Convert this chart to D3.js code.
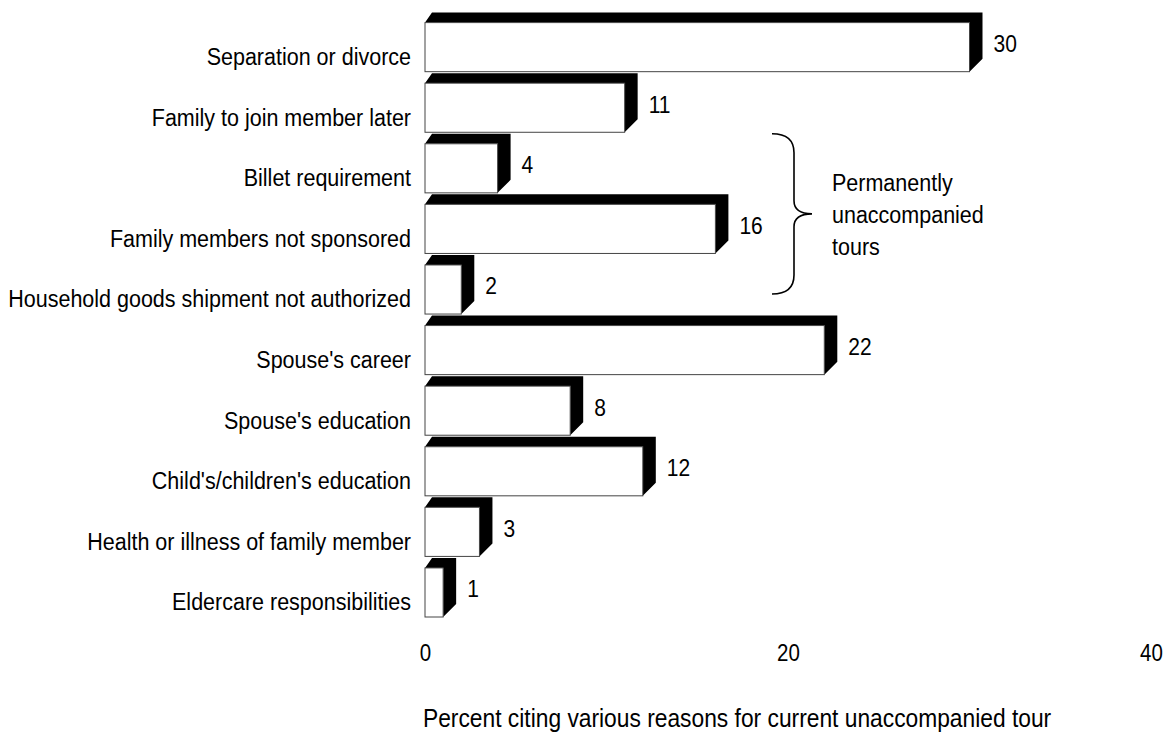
<!DOCTYPE html>
<html>
<head>
<meta charset="utf-8">
<script src="https://cdn.jsdelivr.net/npm/d3@7"></script>
<style>
  body { margin: 0; background: #fff; }
  text { font-family: "Liberation Sans", Arial, sans-serif; fill: #000; }
</style>
</head>
<body>
<div id="chart"></div>
<script>
    const reasons = [
        "Separation or divorce",
        "Family to join member later",
        "Billet requirement",
        "Family members not sponsored",
        "Household goods shipment not authorized",
        "Spouse's career",
        "Spouse's education",
        "Child's/children's education",
        "Health or illness of family member",
        "Eldercare responsibilities"
    ];
    const percents = [30, 11, 4, 16, 2, 22, 8, 12, 3, 1];
    const tickValues = [0, 20, 40];
    const bracketRows = ["Billet requirement", "Household goods shipment not authorized"];
    const bracketText = ["Permanently", "unaccompanied", "tours"];
    const axisTitle = "Percent citing various reasons for current unaccompanied tour";

    const width = 1167, height = 744;
    const depthX = 13, depthY = 10;
    const stretch = 1.13; // the original lettering is a bit taller than it is wide

    const svg = d3.select("#chart").append("svg")
        .attr("width", width)
        .attr("height", height);

    const x = d3.scaleLinear().domain([0, 40]).range([425, 1151]);
    const y = d3.scaleBand().domain(reasons).range([22.6, 617]).paddingInner(0.19).paddingOuter(0);

    const data = reasons.map((r, i) => ({ reason: r, value: percents[i] }));

    // places a text at (px, py) and stretches it vertically around that point
    function place(px, py) {
        return `translate(${px},${py}) scale(1,${stretch})`;
    }

    // black depth (top + right side) of each bar
    svg.selectAll(".depth")
        .data(data)
        .enter()
        .append("path")
        .attr("class", "depth")
        .attr("fill", "#000")
        .attr("d", d => {
            const x0 = x(0), x1 = x(d.value);
            const top = y(d.reason), bot = top + y.bandwidth();
            return `M${x0},${top} L${x0 + 7},${top - depthY} L${x1 + depthX},${top - depthY} ` +
                   `L${x1 + depthX},${bot - depthY - 3} L${x1},${bot} L${x1},${top} Z`;
        });

    // white front face
    svg.selectAll(".bar")
        .data(data)
        .enter()
        .append("rect")
        .attr("class", "bar")
        .attr("x", x(0))
        .attr("y", d => y(d.reason))
        .attr("width", d => x(d.value) - x(0))
        .attr("height", y.bandwidth())
        .attr("fill", "#fff")
        .attr("stroke", "#444")
        .attr("stroke-width", 1);

    // category labels
    svg.selectAll(".cat-label")
        .data(data)
        .enter()
        .append("text")
        .attr("class", "cat-label")
        .attr("transform", d => place(411, y(d.reason) + 42.5))
        .attr("text-anchor", "end")
        .style("font-size", "21.5px")
        .text(d => d.reason);

    // value labels
    svg.selectAll(".val-label")
        .data(data)
        .enter()
        .append("text")
        .attr("class", "val-label")
        .attr("transform", d => place(x(d.value) + depthX + 11, y(d.reason) + 29.5))
        .style("font-size", "21px")
        .text(d => d.value);

    // x axis: tick labels only
    const axis = svg.append("g")
        .attr("transform", "translate(0,645)")
        .call(d3.axisBottom(x).tickValues(tickValues).tickSize(0).tickPadding(0));
    axis.select(".domain").remove();
    axis.selectAll("text")
        .attr("dy", "0.71em")
        .attr("transform", `scale(1,${stretch})`)
        .style("font-size", "20.5px")
        .style("font-family", "'Liberation Sans', Arial, sans-serif")
        .attr("fill", "#000");

    svg.append("text")
        .attr("transform", place(x(0) - 2, 727))
        .style("font-size", "22.8px")
        .text(axisTitle);

    // bracket for permanently unaccompanied tours
    const bTop = y(bracketRows[0]) - 10;
    const bBot = y(bracketRows[1]) + 29;
    const bMid = (bTop + bBot) / 2;
    const bx = 794, r = 13;
    svg.append("path")
        .attr("fill", "none")
        .attr("stroke", "#000")
        .attr("stroke-width", 1.6)
        .attr("d", `M${bx - 22},${bTop} Q${bx},${bTop} ${bx},${bTop + r + 6} L${bx},${bMid - r} ` +
                   `Q${bx},${bMid} ${bx + 18},${bMid} Q${bx},${bMid} ${bx},${bMid + r} ` +
                   `L${bx},${bBot - r - 6} Q${bx},${bBot} ${bx - 22},${bBot}`);

    svg.selectAll(".bracket-text")
        .data(bracketText)
        .enter()
        .append("text")
        .attr("class", "bracket-text")
        .attr("transform", (d, i) => place(832, 191 + i * 32))
        .style("font-size", "21.5px")
        .text(d => d);
</script>
</body>
</html>
